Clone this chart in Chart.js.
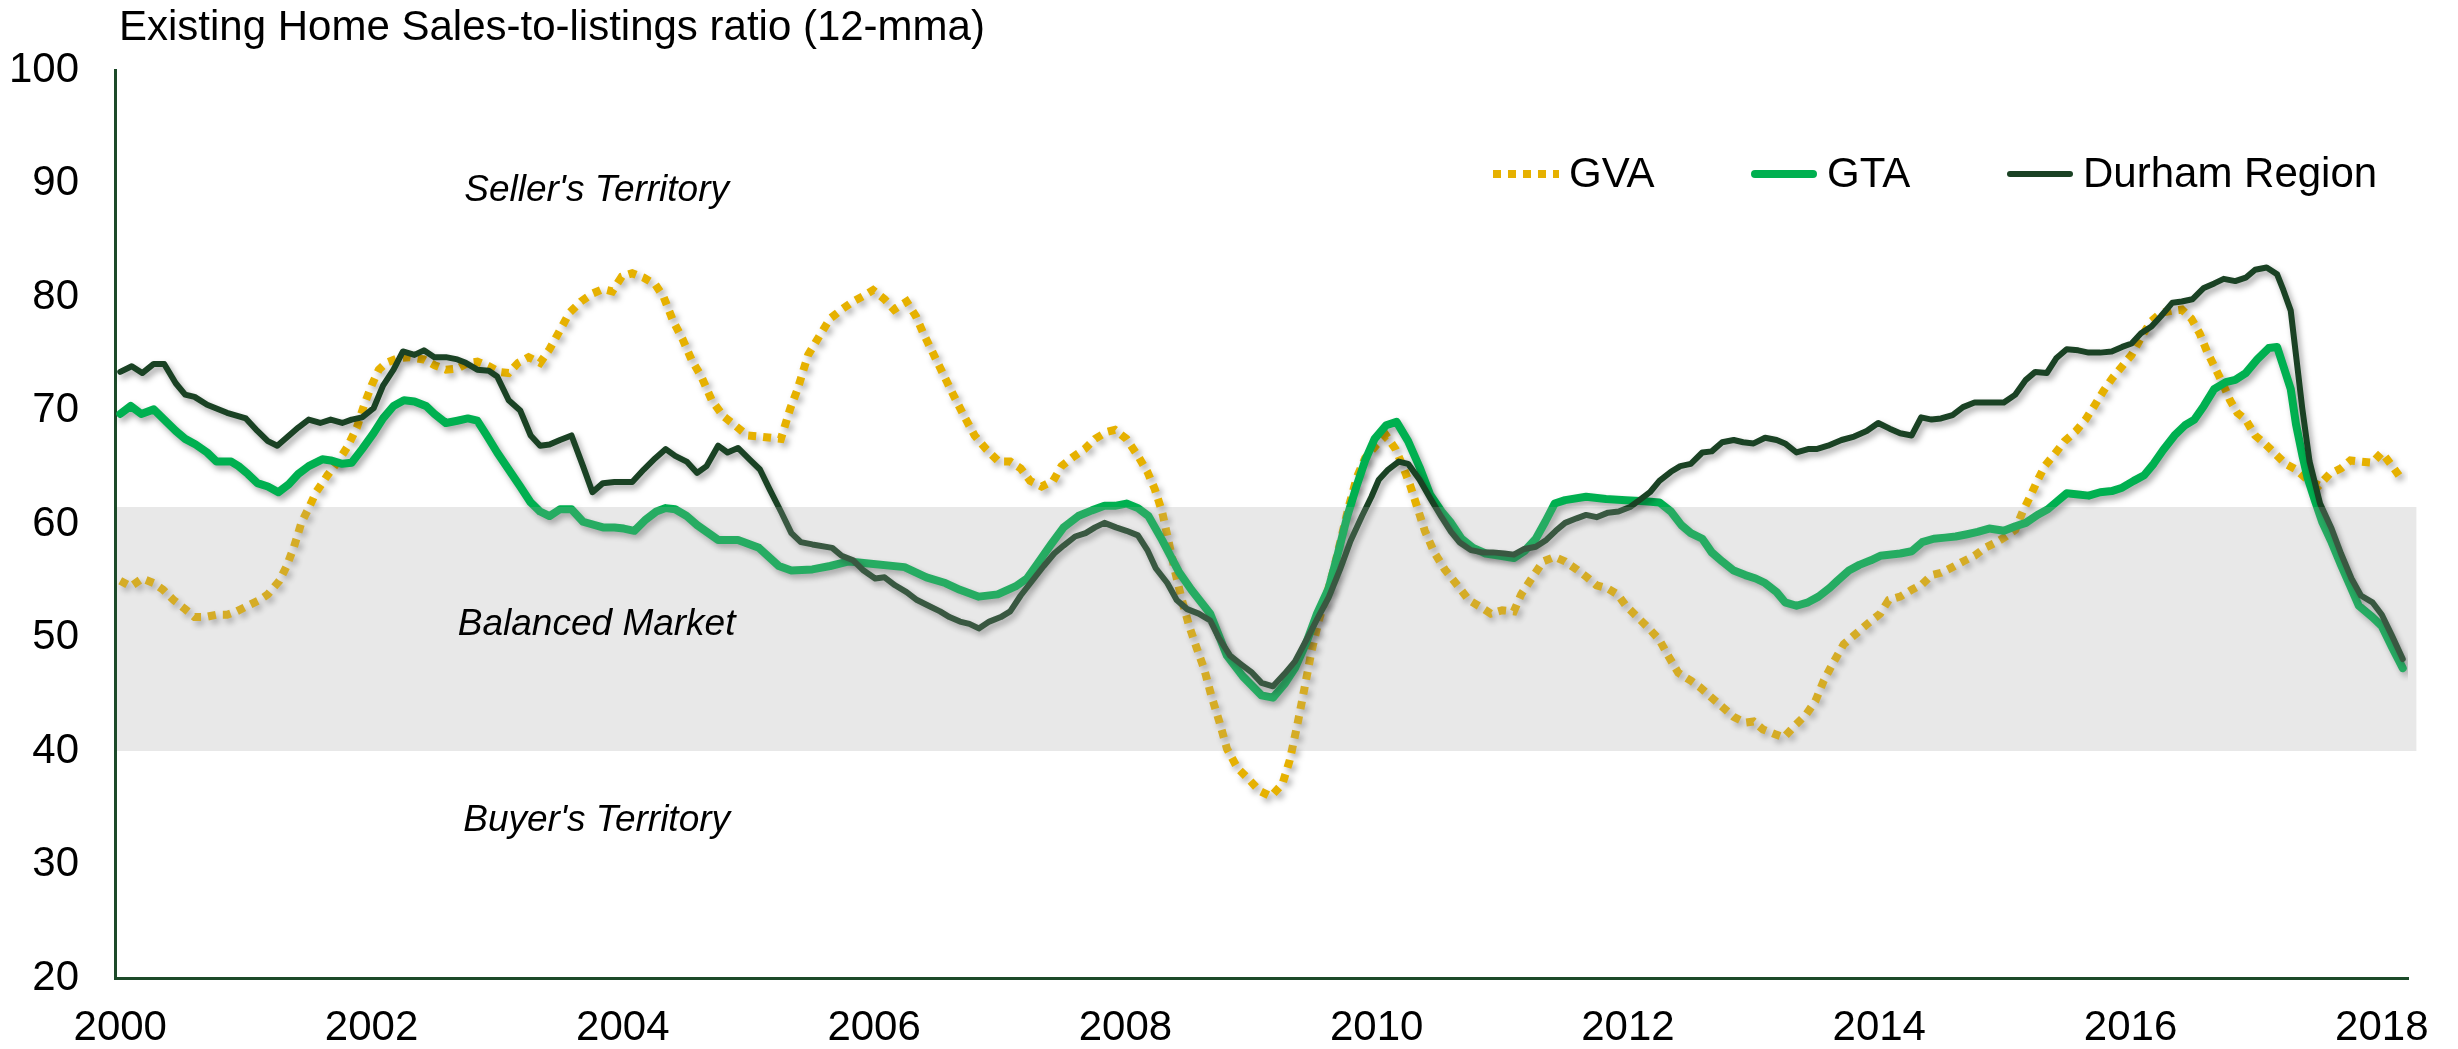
<!DOCTYPE html>
<html lang="en">
<head>
    <meta charset="UTF-8">
    <title>Existing Home Sales-to-listings ratio</title>
    <script src="https://cdn.jsdelivr.net/npm/chart.js"></script>
    <style>
        html, body {
            margin: 0;
            padding: 0;
            background: #fff;
        }
        .chart-container {
            position: relative;
            width: 2458px;
            height: 1049px;
        }
    </style>
</head>
<body>
    <div class="chart-container">
        <canvas id="ratioChart"></canvas>
    </div>

    <script>
        // x values are months counted from Jan 2000 (0 = Jan 2000)
        const gvaMonths = [0, 1, 2.1, 3.2, 4.1, 5.1, 6.2, 7.1, 8.1, 9.2, 10.2, 11.1, 12.2, 13.3, 14.1, 15.2, 15.9, 16.6, 17.3, 18, 18.7, 19.8, 20.8, 21.7, 22.6, 23.3, 24, 24.7, 25.4, 26.5, 27.6, 29, 30, 31.1, 32.2, 33.2, 34.1, 35.2, 36.2, 37.1, 38, 39, 40.1, 41, 41.9, 42.9, 44, 45.1, 46.1, 47, 47.9, 48.9, 50, 51.1, 51.9, 52.8, 53.7, 54.6, 55.5, 56.5, 57.6, 58.7, 59.9, 61.1, 63.1, 64, 64.7, 65.7, 66.8, 67.8, 68.9, 70, 71, 71.9, 73, 73.9, 75.1, 76, 76.7, 77.6, 78.5, 79.5, 80.6, 81.6, 82.7, 83.9, 85, 86, 86.9, 88, 89.1, 89.9, 91, 92.1, 93.1, 94.2, 95, 96.1, 97.2, 98.1, 98.8, 99.5, 100, 100.7, 101.4, 102.1, 102.8, 103.5, 104.2, 105, 105.7, 106.7, 107.8, 108.8, 109.9, 111, 111.7, 112.4, 113.1, 113.8, 114.5, 115.2, 115.9, 116.6, 117.3, 118.1, 118.9, 120, 120.9, 121.8, 122.5, 123.2, 123.9, 124.6, 125.5, 126.5, 127.8, 128.8, 129.9, 130.9, 132, 133.1, 133.8, 134.8, 135.9, 137, 138, 139.1, 140.1, 141, 142.1, 143, 143.8, 144.9, 146, 147, 147.9, 148.8, 150, 150.9, 152, 153, 154.1, 155.2, 156, 156.9, 158, 158.9, 159.9, 161, 161.9, 162.7, 163.5, 164.6, 166, 167, 168.1, 168.9, 170, 171.1, 172.1, 173, 173.9, 175, 176, 177.1, 178.1, 179.2, 180.1, 181, 181.7, 182.4, 183.1, 183.8, 184.7, 185.7, 186.8, 187.7, 188.6, 189.4, 190.3, 191.2, 192.1, 193, 193.9, 194.9, 196, 196.9, 197.8, 198.6, 199.3, 200, 200.8, 201.5, 202.2, 203, 203.9, 204.8, 205.7, 206.8, 207.8, 208.9, 210, 211, 212.1, 213, 214, 215.1, 216, 217, 218];
        const gvaValues = [55.0, 54.5, 55.2, 54.8, 54.2, 53.3, 52.5, 51.8, 51.8, 52.0, 52.0, 52.3, 52.8, 53.3, 53.8, 55.0, 56.3, 58.0, 60.1, 61.4, 62.8, 64.3, 65.5, 66.8, 68.5, 70.5, 72.2, 73.6, 74.2, 74.6, 74.7, 74.5, 74.0, 73.6, 73.7, 74.2, 74.3, 73.9, 73.4, 73.3, 74.2, 74.7, 74.2, 75.4, 76.9, 78.6, 79.6, 80.3, 80.7, 80.5, 81.8, 82.1, 81.7, 81.1, 80.0, 77.9, 76.3, 74.4, 73.0, 70.9, 69.5, 68.7, 67.8, 67.7, 67.5, 70.2, 71.9, 74.9, 76.6, 78.1, 78.9, 79.6, 80.1, 80.6, 79.8, 78.9, 79.6, 78.3, 76.8, 75.1, 73.4, 71.5, 69.5, 67.8, 66.6, 65.5, 65.5, 64.9, 63.8, 63.3, 63.8, 65.1, 65.9, 66.6, 67.5, 68.1, 68.3, 67.5, 66.0, 64.6, 63.1, 61.1, 59.0, 56.0, 53.3, 51.0, 49.1, 47.3, 44.9, 42.5, 40.2, 38.5, 37.5, 36.5, 36.0, 37.1, 39.2, 42.2, 45.5, 48.9, 51.6, 53.7, 56.0, 58.7, 61.4, 64.1, 65.8, 67.0, 67.8, 66.6, 65.1, 63.4, 61.4, 59.4, 57.5, 56.0, 54.5, 53.3, 52.7, 52.1, 52.4, 52.3, 53.8, 55.2, 56.7, 57.1, 56.7, 56.0, 55.3, 54.6, 54.3, 53.8, 52.8, 51.8, 50.8, 49.8, 48.3, 46.9, 46.2, 45.6, 44.7, 43.9, 43.0, 42.5, 42.6, 41.9, 41.5, 41.2, 42.2, 43.2, 44.4, 46.2, 47.6, 49.4, 50.5, 51.3, 52.1, 53.3, 53.6, 54.2, 54.7, 55.5, 55.7, 56.2, 56.7, 57.2, 57.9, 58.4, 58.9, 59.5, 61.1, 62.4, 63.8, 65.1, 66.1, 67.3, 68.2, 69.2, 70.5, 71.7, 72.9, 73.9, 74.9, 76.4, 77.8, 78.6, 78.8, 78.9, 78.1, 76.8, 75.2, 73.9, 72.4, 70.9, 69.8, 69.2, 67.8, 67.1, 66.3, 65.3, 64.8, 63.9, 63.4, 64.4, 64.9, 65.6, 65.5, 65.4, 66.3, 65.1, 63.8];

        const gtaMonths = [0, 1, 2, 3.2, 4.2, 5.3, 6.2, 7.2, 8.3, 9.2, 10.6, 11.3, 12.2, 13.1, 14.1, 15.1, 16.1, 17, 18, 19.3, 20.1, 21.2, 22.1, 23.1, 24.2, 25.1, 26.1, 27.1, 28.1, 29.2, 30, 31.1, 32.2, 33.2, 34.1, 35, 36, 37.1, 38.2, 39.2, 40.1, 41, 42, 43.1, 44.2, 46.1, 47.2, 48.1, 49.1, 50.2, 51.2, 52.1, 53, 54.1, 55.1, 57.1, 59, 61, 62.9, 64.1, 66.1, 67.8, 69.6, 71.7, 74.9, 77, 78.8, 80.2, 82, 83.8, 85.5, 86.6, 87.6, 88.9, 90.1, 91.5, 92.8, 94, 95, 96.1, 97.2, 98.2, 99.5, 101.1, 102.3, 104.1, 105.7, 107.2, 109, 110.1, 111.2, 112.2, 113.3, 114.3, 115.4, 116.3, 117.2, 118.1, 118.9, 119.8, 120.9, 121.9, 123, 124.1, 125.1, 126.2, 127.1, 128.1, 129.2, 130.4, 131.8, 133.1, 134.1, 135.2, 136.1, 137, 138, 140, 141.9, 143.8, 145.6, 147, 148.1, 149.1, 150, 151.1, 152, 153, 154.1, 155.2, 156.2, 157.1, 158.2, 159, 160.1, 161.2, 162.2, 163.3, 164, 165.1, 166.1, 167.2, 168.1, 170, 171.1, 172.1, 173.2, 174.3, 175.3, 176.4, 177.4, 178.5, 179.9, 181, 182, 183.1, 184.1, 185, 185.9, 187, 188, 189.1, 190.2, 191.2, 192.3, 193.3, 194.2, 195.1, 196.2, 197.2, 198.1, 199, 200, 201.1, 202, 203, 204.1, 205.2, 206, 206.6, 207.3, 207.8, 208.4, 208.9, 209.6, 210.3, 211.2, 212.1, 213, 213.8, 215.1, 216, 217, 218];
        const gtaValues = [69.7, 70.4, 69.7, 70.1, 69.2, 68.2, 67.5, 67.0, 66.3, 65.5, 65.5, 65.1, 64.4, 63.6, 63.3, 62.8, 63.5, 64.4, 65.1, 65.7, 65.6, 65.3, 65.4, 66.6, 68.0, 69.3, 70.4, 70.9, 70.8, 70.4, 69.7, 68.9, 69.1, 69.3, 69.1, 67.8, 66.3, 64.8, 63.3, 61.9, 61.1, 60.7, 61.3, 61.3, 60.2, 59.7, 59.7, 59.6, 59.4, 60.4, 61.1, 61.4, 61.3, 60.7, 59.9, 58.6, 58.6, 57.9, 56.3, 55.9, 56.0, 56.3, 56.7, 56.5, 56.2, 55.3, 54.8, 54.2, 53.6, 53.8, 54.5, 55.2, 56.5, 58.2, 59.7, 60.7, 61.2, 61.6, 61.6, 61.8, 61.4, 60.7, 58.6, 55.8, 54.2, 52.1, 48.4, 46.6, 44.9, 44.7, 45.9, 47.3, 49.6, 52.1, 54.3, 57.4, 60.7, 63.4, 65.6, 67.5, 68.7, 69.0, 67.3, 65.0, 62.6, 61.1, 60.1, 58.7, 57.9, 57.4, 57.2, 57.0, 57.6, 58.7, 60.2, 61.8, 62.1, 62.4, 62.2, 62.1, 62.0, 61.9, 61.1, 59.9, 59.2, 58.7, 57.5, 56.7, 55.9, 55.5, 55.2, 54.8, 54.0, 53.1, 52.8, 53.1, 53.6, 54.4, 55.0, 55.9, 56.4, 56.8, 57.2, 57.4, 57.6, 58.4, 58.7, 58.8, 58.9, 59.1, 59.3, 59.6, 59.4, 59.8, 60.1, 60.8, 61.3, 62.0, 62.7, 62.6, 62.5, 62.8, 62.9, 63.2, 63.8, 64.3, 65.3, 66.5, 67.8, 68.7, 69.2, 70.4, 71.9, 72.5, 72.7, 73.3, 74.5, 75.5, 75.6, 73.9, 71.9, 68.8, 66.1, 64.1, 62.1, 60.2, 58.4, 56.4, 54.5, 52.8, 51.8, 51.0, 49.1, 47.3];

        const durhamMonths = [0, 1.1, 2.1, 3.2, 4.2, 5.3, 6.2, 7.1, 8.3, 10.2, 12, 13.1, 14.1, 15, 17, 18, 19.1, 20.1, 21.2, 22.1, 23.1, 24.2, 25.1, 26.1, 27, 28.1, 29, 30, 31.1, 32.2, 33, 34.1, 35.2, 36, 37.1, 38.2, 39.2, 40.1, 41, 42, 43.1, 44.2, 45.1, 46.1, 47.2, 48.9, 50, 51.1, 52.1, 53, 54.1, 55.1, 56, 57.1, 58, 59, 60.1, 61.1, 62, 63.1, 64.1, 65, 66.1, 68, 68.9, 70, 71, 72.1, 73, 74, 75.1, 76.1, 77.2, 78.3, 79.2, 80.2, 81.1, 82, 83, 84.1, 85, 86, 87.1, 88.2, 89.2, 90.1, 91.2, 92.2, 93.1, 94, 95.1, 96.1, 97.2, 98.1, 98.9, 100, 100.9, 101.9, 103, 104.1, 104.9, 106, 107.1, 108.1, 109, 110.1, 111.2, 112.2, 113.3, 114.3, 115.4, 116.5, 117.5, 118.6, 119.5, 120.2, 121.1, 122.1, 123, 124.1, 125.1, 126.2, 127.1, 127.9, 129, 130.1, 131.1, 132.2, 133.1, 134.1, 135.2, 136.2, 137.1, 138, 139.1, 140, 141, 142.1, 143.1, 144.2, 145.1, 146.1, 147, 148.1, 149, 150, 151.1, 152, 153, 154.1, 155, 156, 157.1, 158.2, 159, 160.1, 161.2, 162, 163.1, 164.4, 165.6, 166.8, 167.9, 169, 170, 171.1, 172, 173, 173.9, 175, 176, 177.1, 178.1, 179.9, 181, 182, 182.9, 184, 184.9, 185.9, 187, 188, 189.1, 190.2, 191.2, 192.1, 193, 194, 194.9, 196, 196.9, 197.9, 199, 200, 200.9, 202, 203, 203.9, 205, 206, 206.6, 207.3, 207.8, 208.4, 209.1, 210.1, 211.2, 212.1, 213.1, 214, 215.1, 216, 217, 218];
        const durhamValues = [73.4, 73.9, 73.3, 74.1, 74.1, 72.4, 71.4, 71.2, 70.5, 69.8, 69.3, 68.2, 67.3, 66.9, 68.5, 69.2, 68.9, 69.2, 68.9, 69.2, 69.4, 70.2, 72.2, 73.6, 75.2, 74.9, 75.3, 74.7, 74.7, 74.5, 74.2, 73.6, 73.5, 73.0, 70.9, 70.0, 67.8, 66.9, 67.0, 67.4, 67.8, 65.1, 62.8, 63.6, 63.7, 63.7, 64.8, 65.8, 66.6, 66.0, 65.5, 64.5, 65.1, 66.9, 66.3, 66.7, 65.7, 64.8, 63.1, 61.1, 59.2, 58.4, 58.2, 57.9, 57.2, 56.8, 55.9, 55.2, 55.3, 54.6, 54.0, 53.3, 52.8, 52.3, 51.8, 51.4, 51.2, 50.8, 51.4, 51.8, 52.3, 53.7, 55.0, 56.3, 57.4, 58.1, 58.9, 59.2, 59.7, 60.1, 59.7, 59.4, 59.0, 57.7, 56.1, 54.8, 53.3, 52.5, 52.1, 51.5, 50.0, 48.4, 47.6, 46.9, 46.0, 45.7, 46.8, 47.9, 49.8, 51.6, 53.5, 56.0, 58.5, 60.7, 62.4, 63.9, 64.8, 65.5, 65.3, 63.9, 62.3, 60.6, 59.3, 58.4, 57.7, 57.5, 57.5, 57.4, 57.3, 57.8, 58.0, 58.6, 59.4, 60.1, 60.5, 60.8, 60.6, 61.0, 61.1, 61.5, 62.1, 62.8, 63.8, 64.6, 65.1, 65.3, 66.3, 66.4, 67.2, 67.4, 67.2, 67.1, 67.6, 67.4, 67.1, 66.3, 66.6, 66.6, 66.9, 67.4, 67.7, 68.2, 68.9, 68.4, 68.0, 67.8, 69.4, 69.2, 69.3, 69.6, 70.3, 70.7, 70.7, 70.7, 71.4, 72.7, 73.4, 73.3, 74.6, 75.4, 75.3, 75.1, 75.1, 75.2, 75.6, 75.9, 76.8, 77.4, 78.3, 79.5, 79.6, 79.8, 80.8, 81.2, 81.6, 81.4, 81.7, 82.4, 82.6, 82.0, 80.6, 78.8, 74.9, 70.2, 65.5, 61.8, 59.6, 57.4, 55.2, 53.7, 53.1, 52.0, 50.1, 48.1];

        const yearTicks = [0, 24, 48, 72, 96, 120, 144, 168, 192, 216];
        const yearLabels = ['2000', '2002', '2004', '2006', '2008', '2010', '2012', '2014', '2016', '2018'];

        const balancedRange = [40, 61.5];
        const zoneLabels = ["Seller's Territory", 'Balanced Market', "Buyer's Territory"];
        const zoneLabelValues = [89.4, 51.1, 33.9];
        const zoneLabelMonth = 45.5;

        const titleText = 'Existing Home Sales-to-listings ratio (12-mma)';
        const FONT = '"Liberation Sans", Arial, sans-serif';

        const toPoints = (xs, ys) => xs.map((m, i) => ({ x: m, y: ys[i] }));

        // band, zone names, title and legend
        const decorPlugin = {
            id: 'decor',
            beforeDatasetsDraw(chart) {
                const ctx = chart.ctx;
                ctx.save();
                ctx.shadowColor = 'rgba(0, 0, 0, 0.35)';
                ctx.shadowBlur = 6;
                ctx.shadowOffsetX = 3;
                ctx.shadowOffsetY = 4;
            },
            afterDatasetsDraw(chart) {
                const ctx = chart.ctx;
                const { x, y } = chart.scales;
                ctx.restore();

                ctx.save();
                const left = x.getPixelForValue(-0.5) + 2;
                const right = x.getPixelForValue(219.3);
                const top = y.getPixelForValue(balancedRange[1]);
                const bottom = y.getPixelForValue(balancedRange[0]);
                ctx.fillStyle = 'rgba(160, 160, 160, 0.24)';
                ctx.fillRect(left, top, right - left, bottom - top);

                ctx.font = 'italic 37px ' + FONT;
                ctx.fillStyle = '#000';
                ctx.textAlign = 'center';
                ctx.textBaseline = 'middle';
                zoneLabels.forEach((t, i) => {
                    ctx.fillText(t, x.getPixelForValue(zoneLabelMonth), y.getPixelForValue(zoneLabelValues[i]));
                });
                ctx.restore();
            },
            afterDraw(chart) {
                const ctx = chart.ctx;
                ctx.save();
                ctx.fillStyle = '#000';
                ctx.font = '42px ' + FONT;
                ctx.textAlign = 'left';
                ctx.textBaseline = 'alphabetic';
                ctx.fillText(titleText, 119, 40);

                // legend
                const legendX = [1493, 1751, 2007];
                const legendY = 174;
                const lineLen = 66;
                ctx.textBaseline = 'middle';
                chart.data.datasets.forEach((ds, i) => {
                    ctx.save();
                    ctx.strokeStyle = ds.borderColor;
                    ctx.lineWidth = ds.borderWidth;
                    ctx.lineCap = ds.borderCapStyle || 'butt';
                    ctx.setLineDash(ds.borderDash || []);
                    ctx.beginPath();
                    const x0 = legendX[i] + (ctx.lineCap === 'round' ? ds.borderWidth / 2 : 0);
                    const x1 = legendX[i] + lineLen - (ctx.lineCap === 'round' ? ds.borderWidth / 2 : 0);
                    ctx.moveTo(x0, legendY);
                    ctx.lineTo(x1, legendY);
                    ctx.stroke();
                    ctx.restore();
                    ctx.fillText(ds.label, legendX[i] + lineLen + 10, legendY + 1);
                });
                ctx.restore();
            }
        };

        const tickFont = { family: FONT, size: 42 };

        const ctx = document.getElementById('ratioChart').getContext('2d');
        const ratioChart = new Chart(ctx, {
            type: 'line',
            data: {
                datasets: [
                    {
                        label: 'GVA',
                        data: toPoints(gvaMonths, gvaValues),
                        borderColor: '#E6B100',
                        borderWidth: 8,
                        borderDash: [8, 7],
                        borderCapStyle: 'butt',
                        order: 3
                    },
                    {
                        label: 'GTA',
                        data: toPoints(gtaMonths, gtaValues),
                        borderColor: '#00B050',
                        borderWidth: 8,
                        borderCapStyle: 'round',
                        borderJoinStyle: 'round',
                        order: 2
                    },
                    {
                        label: 'Durham Region',
                        data: toPoints(durhamMonths, durhamValues),
                        borderColor: '#1A4224',
                        borderWidth: 6,
                        borderCapStyle: 'round',
                        borderJoinStyle: 'round',
                        order: 1
                    }
                ]
            },
            options: {
                animation: false,
                responsive: true,
                maintainAspectRatio: false,
                elements: {
                    point: { radius: 0, hoverRadius: 0 },
                    line: { tension: 0, fill: false }
                },
                layout: {
                    padding: { left: 0, right: 50, top: 70, bottom: 0 }
                },
                plugins: {
                    legend: { display: false },
                    tooltip: { enabled: false }
                },
                scales: {
                    x: {
                        type: 'linear',
                        min: -0.5,
                        max: 218.5,
                        grid: { display: false, drawTicks: false },
                        border: { display: true, color: '#1C4A29', width: 3 },
                        afterBuildTicks: (scale) => {
                            scale.ticks = yearTicks.map(v => ({ value: v }));
                        },
                        afterFit: (scale) => { scale.height = 71; },
                        ticks: {
                            autoSkip: false,
                            maxRotation: 0,
                            padding: 25,
                            color: '#000',
                            font: tickFont,
                            callback: (value) => yearLabels[yearTicks.indexOf(value)]
                        }
                    },
                    y: {
                        min: 20,
                        max: 100,
                        grid: { display: false, drawTicks: false },
                        border: { display: true, color: '#1C4A29', width: 3 },
                        afterFit: (scale) => { scale.width = 115; },
                        ticks: {
                            stepSize: 10,
                            padding: 36,
                            color: '#000',
                            font: tickFont
                        }
                    }
                }
            },
            plugins: [decorPlugin]
        });
    </script>
</body>
</html>
